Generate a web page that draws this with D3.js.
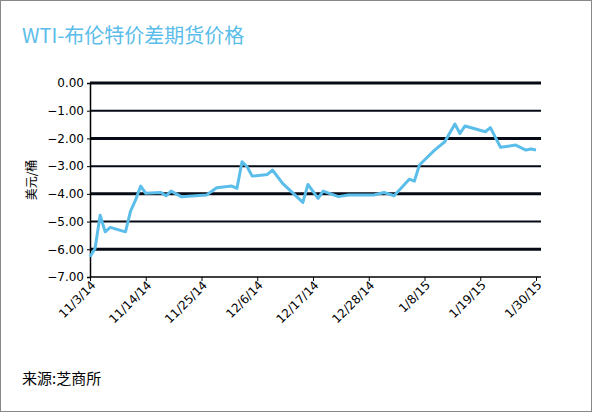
<!DOCTYPE html><html><head><meta charset="utf-8">
<script src="https://cdn.jsdelivr.net/npm/d3@7"></script>
<style>body{margin:0;background:#fff}</style></head><body><svg id="c" width="592" height="412"></svg>
<script>
const dates=["2014-11-03","2014-11-04","2014-11-05","2014-11-06","2014-11-07","2014-11-10","2014-11-11","2014-11-12","2014-11-13","2014-11-14","2014-11-17","2014-11-18","2014-11-19","2014-11-21","2014-11-26","2014-11-28","2014-12-01","2014-12-02","2014-12-03","2014-12-04","2014-12-05","2014-12-08","2014-12-09","2014-12-11","2014-12-15","2014-12-16","2014-12-18","2014-12-19","2014-12-22","2014-12-24","2014-12-29","2014-12-31","2015-01-02","2015-01-05","2015-01-06","2015-01-07","2015-01-08","2015-01-10","2015-01-12","2015-01-14","2015-01-15","2015-01-16","2015-01-20","2015-01-21","2015-01-23","2015-01-26","2015-01-28","2015-01-29","2015-01-30"];
const values=[-6.27,-5.97,-4.77,-5.37,-5.21,-5.37,-4.62,-4.22,-3.72,-3.98,-3.95,-4.07,-3.90,-4.10,-4.04,-3.78,-3.72,-3.80,-2.84,-3.02,-3.36,-3.30,-3.14,-3.62,-4.31,-3.66,-4.16,-3.90,-4.10,-4.04,-4.04,-3.95,-4.07,-3.47,-3.54,-2.96,-2.78,-2.42,-2.12,-1.48,-1.82,-1.55,-1.76,-1.61,-2.32,-2.24,-2.42,-2.38,-2.42];
const tickDates=["2014-11-03","2014-11-14","2014-11-25","2014-12-06","2014-12-17","2014-12-28","2015-01-08","2015-01-19","2015-01-30"];
const tickLabels=["11/3/14","11/14/14","11/25/14","12/6/14","12/17/14","12/28/14","1/8/15","1/19/15","1/30/15"];
const yTicks=[0,-1,-2,-3,-4,-5,-6,-7];
const title="WTI-布伦特价差期货价格", yTitle="美元/桶", source="来源:芝商所";
const p=d3.timeParse("%Y-%m-%d");
const svg=d3.select("#c");
svg.append("rect").attr("x",0.5).attr("y",0.5).attr("width",591).attr("height",411).attr("fill","#fff").attr("stroke","#888");
const x=d3.scaleTime().domain([p(tickDates[0]),p(tickDates[8])]).range([90,536]);
const y=d3.scaleLinear().domain([-7,0]).range([277,83]);
const F="'Noto Sans CJK SC','Noto Sans',sans-serif";
svg.append("text").attr("x",22).attr("y",43).attr("fill","#5bbde9").attr("font-size",20).attr("font-family",F).text(title);
yTicks.filter(v=>v>-7).forEach(v=>svg.append("line").attr("x1",90).attr("x2",541).attr("y1",y(v)).attr("y2",y(v)).attr("stroke","#050a14").attr("stroke-width",v%2===0?3:2));
const ya=svg.append("g").attr("transform","translate(90,0)").call(d3.axisLeft(y).tickValues(yTicks).tickFormat(d3.format(".2f")).tickSize(3));
ya.select(".domain").attr("stroke","#000").attr("stroke-width",1.5);
ya.selectAll("text").attr("font-size",12).attr("font-family","'DejaVu Sans',sans-serif").attr("fill","#000");
const xa=svg.append("g").attr("transform","translate(0,277)").call(d3.axisBottom(x).tickValues(tickDates.map(p)).tickFormat((d,i)=>tickLabels[i]).tickSize(4).tickSizeOuter(0));
xa.select(".domain").attr("stroke","#000").attr("stroke-width",1.5).attr("d","M90,0H541");
xa.selectAll("text").attr("font-size",12).attr("font-family","'DejaVu Sans',sans-serif").attr("fill","#000").attr("text-anchor","end").attr("transform","translate(3,6) rotate(-45)").attr("dy","0.35em").attr("y",0);
svg.append("path").datum(dates.map((d,i)=>[p(d),values[i]])).attr("fill","none").attr("stroke","#5bbde9").attr("stroke-width",3).attr("stroke-linejoin","round").attr("d",d3.line().x(d=>x(d[0])).y(d=>y(d[1])));
svg.append("text").attr("transform","translate(36,180) rotate(-90)").attr("text-anchor","middle").attr("font-size",12).attr("font-family",F).text(yTitle);
svg.append("text").attr("x",22).attr("y",384).attr("font-size",15).attr("font-family",F).text(source);
</script></body></html>
